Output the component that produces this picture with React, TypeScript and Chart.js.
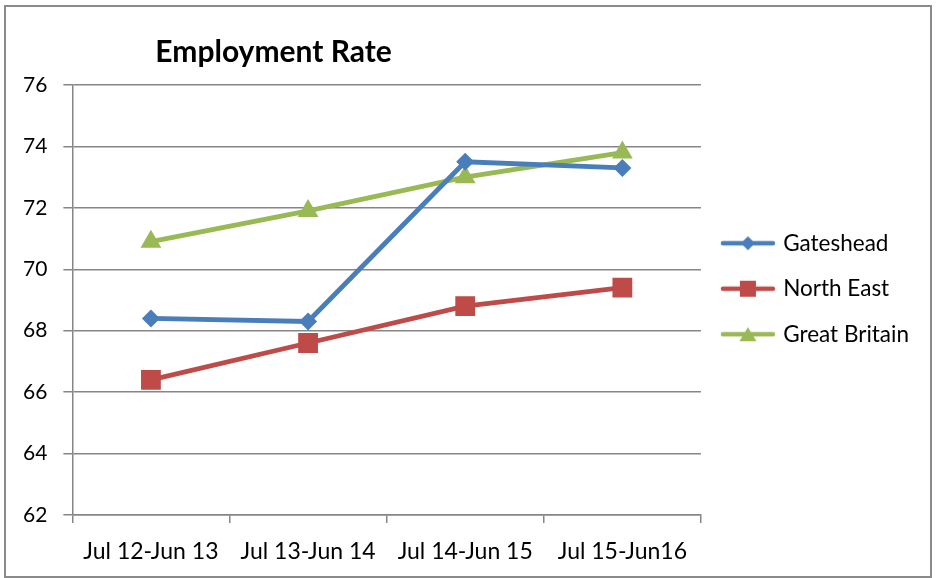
import React, { useEffect, useRef } from 'react';
import { Chart, registerables } from 'chart.js';

Chart.register(...registerables);

const TITLE = 'Employment Rate';
const categories = ['Jul 12-Jun 13', 'Jul 13-Jun 14', 'Jul 14-Jun 15', 'Jul 15-Jun16'];
const seriesNames = ['Gateshead', 'North East', 'Great Britain'];
const gateshead = [68.4, 68.3, 73.5, 73.3];
const northEast = [66.4, 67.6, 68.8, 69.4];
const greatBritain = [70.9, 71.9, 73.0, 73.8];
const yMin = 62;
const yMax = 76;
const yStep = 2;

const BLUE = '#4A7EBB';
const RED = '#BE4B48';
const GREEN = '#98B954';
const GRID = '#868686';
const FONT = 'Lato, "Open Sans", sans-serif';

function makeLegendIcon(color: string, style: string): HTMLCanvasElement {
  const c = document.createElement('canvas');
  c.width = 56;
  c.height = 20;
  const ctx = c.getContext('2d')!;
  ctx.strokeStyle = color;
  ctx.lineWidth = 4.5;
  ctx.lineCap = 'round';
  ctx.beginPath();
  ctx.moveTo(3, 10);
  ctx.lineTo(53, 10);
  ctx.stroke();
  ctx.fillStyle = color;
  ctx.beginPath();
  if (style === 'rectRot') {
    ctx.moveTo(28 - 7, 10);
    ctx.lineTo(28, 3);
    ctx.lineTo(28 + 7, 10);
    ctx.lineTo(28, 17);
  } else if (style === 'rect') {
    ctx.rect(28 - 8, 2, 16, 16);
  } else {
    ctx.moveTo(28 - 8.5, 17);
    ctx.lineTo(28, 3);
    ctx.lineTo(28 + 8.5, 17);
  }
  ctx.closePath();
  ctx.fill();
  return c;
}

const titlePlugin = {
  id: 'leftTitle',
  afterDraw(chart: any) {
    const ctx = chart.ctx;
    ctx.save();
    ctx.font = 'bold 30px ' + FONT;
    ctx.fillStyle = '#000';
    ctx.textBaseline = 'middle';
    ctx.textAlign = 'left';
    ctx.fillText(TITLE, chart.chartArea.left + 83, 52);
    ctx.restore();
  },
};

export default function App() {
  const ref = useRef<HTMLCanvasElement | null>(null);

  useEffect(() => {
    if (!ref.current) return;
    const styles = ['rectRot', 'rect', 'triangle'];
    const colors = [BLUE, RED, GREEN];
    const values = [gateshead, northEast, greatBritain];
    const radii = [9, 14, 12];
    const icons = styles.map((s, i) => makeLegendIcon(colors[i], s));

    const chart = new Chart(ref.current, {
      type: 'line',
      data: {
        labels: categories,
        datasets: seriesNames.map((name, i) => ({
          label: name,
          data: values[i],
          borderColor: colors[i],
          backgroundColor: colors[i],
          borderWidth: 4.8,
          pointStyle: styles[i] as any,
          pointRadius: radii[i],
          pointBackgroundColor: colors[i],
          pointBorderColor: colors[i],
          pointBorderWidth: 0,
          tension: 0,
        })),
      },
      options: {
        animation: false,
        responsive: false,
        devicePixelRatio: 1,
        layout: { padding: { top: 85, left: 7, right: 18, bottom: 0 } },
        plugins: {
          title: { display: false },
          tooltip: { enabled: false },
          legend: {
            position: 'right',
            align: 'start',
            fullSize: false,
            title: { display: true, text: '', padding: { top: 112, bottom: 0 }, font: { size: 10 } },
            labels: {
              usePointStyle: true,
              pointStyleWidth: 48,
              padding: 23,
              color: '#000',
              font: { family: FONT, size: 22.5 },
              generateLabels: (ch: any) =>
                ch.data.datasets.map((ds: any, i: number) => ({
                  text: ds.label,
                  fillStyle: colors[i],
                  strokeStyle: colors[i],
                  lineWidth: 0,
                  pointStyle: icons[i],
                  hidden: false,
                  datasetIndex: i,
                  fontColor: '#000',
                })),
            },
          },
        },
        scales: {
          x: {
            offset: true,
            afterFit: (s: any) => {
              s.height = 63;
            },
            grid: {
              offset: true,
              drawOnChartArea: false,
              drawTicks: true,
              tickLength: 8,
              color: GRID,
              lineWidth: 1.5,
            },
            border: { display: true, color: GRID, width: 1.5 },
            ticks: {
              color: '#000',
              font: { family: FONT, size: 23 },
              padding: 15,
              maxRotation: 0,
              autoSkip: false,
            },
          },
          y: {
            min: yMin,
            max: yMax,
            grid: { color: GRID, lineWidth: 1.5, tickLength: 9, drawTicks: true },
            border: { display: true, color: GRID, width: 1.5 },
            ticks: {
              stepSize: yStep,
              color: '#000',
              font: { family: FONT, size: 21 },
              padding: 16,
            },
          },
        },
      },
      plugins: [titlePlugin],
    });
    return () => chart.destroy();
  }, []);

  return (
    <div style={{ position: 'fixed', left: 0, top: 0, width: 937, height: 578, background: '#fff' }}>
      <canvas ref={ref} width={937} height={578} style={{ position: 'absolute', left: 0, top: 0 }} />
      <div
        style={{
          position: 'absolute',
          left: 4,
          top: 5,
          width: 924,
          height: 569,
          border: '2px solid #8a8a8a',
          pointerEvents: 'none',
        }}
      />
    </div>
  );
}
